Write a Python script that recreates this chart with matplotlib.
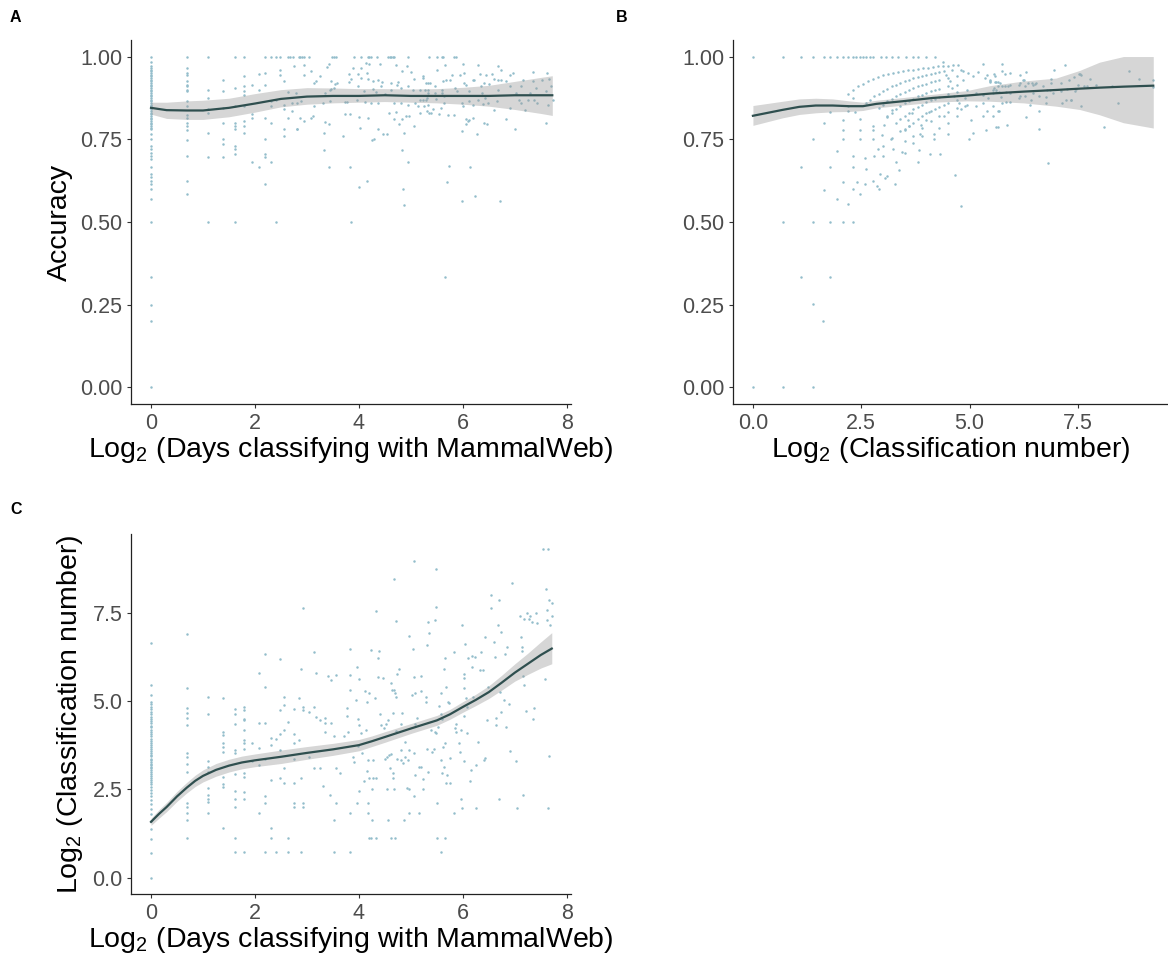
import matplotlib
matplotlib.use("Agg")
from matplotlib import pyplot as plt
import numpy as np

plt.rcParams['font.family'] = ['Liberation Sans', 'DejaVu Sans']
plt.rcParams['mathtext.fontset'] = 'custom'
plt.rcParams['mathtext.rm'] = 'Liberation Sans'
plt.rcParams['mathtext.default'] = 'regular'

# ---------------- panel A: accuracy vs log days ----------------
# users active a single day (log days = 0)
a_oneday_acc = [1.0, 0.985, 0.97, 0.965, 0.96, 0.955, 0.95, 0.945, 0.94, 0.935, 0.93,
                0.925, 0.92, 0.915, 0.91, 0.905, 0.90, 0.895, 0.89, 0.885, 0.88, 0.875,
                0.87, 0.865, 0.86, 0.855, 0.85, 0.845, 0.84, 0.835, 0.83, 0.825, 0.82,
                0.815, 0.81, 0.805, 0.80, 0.795, 0.79, 0.785, 0.78, 0.765, 0.75, 0.73,
                0.72, 0.71, 0.70, 0.69, 0.665, 0.645, 0.635, 0.625, 0.615, 0.60, 0.57,
                0.5, 0.333, 0.25, 0.2, 0.0]

a_days = [0.69, 0.69, 0.69, 0.69, 0.69, 0.69, 0.69, 0.69, 0.69, 0.69, 0.69, 0.69, 0.69,
          0.69, 0.69, 0.69, 0.69, 0.69, 0.69, 0.69,
          1.10, 1.10, 1.10, 1.10, 1.10, 1.10, 1.10, 1.10,
          1.39, 1.39, 1.39, 1.39, 1.39, 1.39, 1.39,
          1.61, 1.61, 1.61, 1.61, 1.61, 1.61, 1.61, 1.61, 1.61, 1.61,
          1.79, 1.79, 1.79, 1.79, 1.79, 1.79, 1.79, 1.79, 1.79,
          1.95, 1.95, 1.95, 1.95, 2.08, 2.08, 2.08,
          2.20, 2.20, 2.20, 2.20, 2.20, 2.20, 2.20, 2.20,
          2.30, 2.30, 2.30, 2.30, 2.30, 2.40, 2.40, 2.40, 2.48, 2.48, 2.48,
          2.56, 2.56, 2.56, 2.56, 2.56, 2.64, 2.64, 2.64,
          2.68, 2.73, 2.84, 2.87, 2.90, 2.95, 3.04, 3.49, 3.52, 3.56, 3.91, 4.04, 4.17,
          4.20, 4.23, 4.35, 4.55, 4.59, 4.62, 4.65, 4.68, 4.95, 5.35, 5.51, 5.59, 5.62,
          5.83, 5.86,
          2.75, 2.95, 3.43, 3.38, 3.89, 4.04, 4.14, 4.20, 4.40, 4.72, 4.93, 3.08, 2.95,
          3.26, 3.80, 3.98, 4.16, 3.85, 4.04, 4.18, 4.27, 4.37, 4.44, 4.62, 4.75, 4.83,
          5.01, 5.06, 5.23, 5.30, 3.13, 3.17, 3.46, 3.54, 3.58, 3.80, 3.46, 3.35, 3.44,
          3.52, 3.99, 4.10, 4.27, 4.33, 4.43, 4.51, 4.62, 4.73, 4.81, 4.94, 5.04, 5.17,
          5.33, 2.78, 2.71, 2.80, 2.88, 3.13, 3.30, 3.44, 3.74, 3.78, 3.97, 4.12, 4.23,
          4.36, 4.68, 4.80, 4.94, 5.07, 5.17, 5.25, 5.31, 2.71, 2.80, 2.87, 2.94, 3.07,
          3.12, 3.35, 3.42, 3.74, 3.82, 4.00, 4.03, 4.18, 4.26, 4.29, 4.36, 4.46, 4.54,
          4.57, 4.67, 4.71, 4.77, 4.83, 4.91, 4.96, 5.06, 5.14, 5.17, 5.35, 2.81, 3.32,
          3.32, 3.43, 3.69, 3.82, 4.00, 4.15, 4.84, 4.87, 4.86, 4.95, 4.83, 3.85,
          5.65, 6.01, 6.29, 6.67, 6.74, 5.51, 7.34, 7.62, 5.23, 5.79, 5.95, 6.02, 6.32,
          6.45, 6.56, 6.90, 6.96, 5.33, 5.36, 5.62, 5.67, 5.76, 6.03, 6.19, 6.22, 6.40,
          6.51, 6.59, 6.67, 6.74, 6.82, 7.16, 7.35, 7.52, 7.66, 7.70, 5.27, 5.46, 5.59,
          5.85, 6.06, 6.34, 6.67, 6.91, 7.12, 7.41, 7.59, 5.33, 5.46, 5.59, 5.64, 5.88,
          6.12, 6.36, 7.02, 7.29, 5.23, 5.30, 5.49, 5.64, 5.98, 6.12, 6.29, 6.42, 6.49,
          6.65, 7.08, 7.12, 7.25, 7.37, 7.42, 7.63, 7.73, 5.32, 5.42, 5.31, 5.39, 5.54,
          5.58, 5.71, 5.83, 6.00, 6.19, 6.38, 6.59, 6.90, 7.20, 6.06, 6.09, 6.12, 6.19,
          6.82, 6.41, 6.47, 6.06, 5.98, 6.27, 7.00, 7.60, 5.74, 6.14, 5.70, 6.24, 5.98,
          6.71, 5.65]

a_acc = [1.0, 0.966, 0.95, 0.945, 0.925, 0.915, 0.91, 0.90, 0.895, 0.865, 0.85, 0.824,
         0.814, 0.799, 0.789, 0.779, 0.749, 0.698, 0.624, 0.584,
         1.0, 0.90, 0.875, 0.84, 0.83, 0.77, 0.695, 0.5,
         0.93, 0.897, 0.845, 0.80, 0.75, 0.735, 0.695,
         1.0, 0.905, 0.85, 0.80, 0.79, 0.78, 0.73, 0.72, 0.705, 0.5,
         1.0, 0.94, 0.91, 0.895, 0.885, 0.85, 0.805, 0.79, 0.77,
         0.915, 0.825, 0.813, 0.682, 0.947, 0.90, 0.666,
         1.0, 0.95, 0.915, 0.815, 0.75, 0.705, 0.695, 0.615,
         1.0, 0.867, 0.85, 0.80, 0.682, 1.0, 0.87, 0.5, 1.0, 0.96, 0.945,
         0.927, 0.855, 0.84, 0.78, 0.761, 1.0, 0.893, 0.815,
         1.0, 1.0, 1.0, 1.0, 1.0, 1.0, 1.0, 1.0, 1.0, 1.0, 1.0, 1.0, 1.0,
         1.0, 1.0, 1.0, 1.0, 1.0, 1.0, 1.0, 1.0, 1.0, 1.0, 1.0, 1.0, 1.0,
         1.0, 1.0,
         0.972, 0.975, 0.977, 0.967, 0.965, 0.965, 0.98, 0.977, 0.978, 0.975, 0.97, 0.957,
         0.944, 0.94, 0.947, 0.948, 0.95, 0.933, 0.935, 0.932, 0.925, 0.93, 0.922, 0.92,
         0.922, 0.955, 0.953, 0.932, 0.935, 0.92, 0.92, 0.925, 0.927, 0.917, 0.92, 0.923,
         0.902, 0.89, 0.898, 0.905, 0.91, 0.895, 0.902, 0.893, 0.91, 0.888, 0.90, 0.915,
         0.905, 0.91, 0.90, 0.90, 0.90, 0.89, 0.86, 0.86, 0.865, 0.85, 0.86, 0.865, 0.862,
         0.862, 0.868, 0.862, 0.86, 0.86, 0.86, 0.86, 0.855, 0.86, 0.87, 0.85, 0.875,
         0.835, 0.78, 0.813, 0.805, 0.815, 0.82, 0.802, 0.795, 0.827, 0.827, 0.817, 0.783,
         0.815, 0.748, 0.752, 0.78, 0.765, 0.765, 0.83, 0.81, 0.832, 0.795, 0.81, 0.82,
         0.82, 0.79, 0.85, 0.83, 0.83, 0.781, 0.718, 0.77, 0.666, 0.761, 0.666, 0.605,
         0.625, 0.60, 0.55, 0.77, 0.68, 0.718, 0.5,
         0.975, 0.977, 0.975, 0.97, 0.96, 0.96, 0.954, 0.95, 0.94, 0.943, 0.943, 0.95,
         0.948, 0.943, 0.948, 0.943, 0.95, 0.92, 0.92, 0.925, 0.93, 0.93, 0.92, 0.928,
         0.928, 0.92, 0.918, 0.933, 0.928, 0.93, 0.926, 0.928, 0.925, 0.93, 0.933, 0.91,
         0.90, 0.91, 0.90, 0.905, 0.915, 0.91, 0.90, 0.91, 0.91, 0.905, 0.895, 0.89, 0.89,
         0.89, 0.88, 0.895, 0.895, 0.89, 0.89, 0.89, 0.87, 0.868, 0.873, 0.86, 0.86,
         0.865, 0.87, 0.875, 0.86, 0.865, 0.87, 0.86, 0.87, 0.87, 0.86, 0.855, 0.87,
         0.853, 0.84, 0.835, 0.828, 0.825, 0.845, 0.822, 0.822, 0.85, 0.853, 0.856, 0.838,
         0.846, 0.838, 0.81, 0.806, 0.808, 0.815, 0.81, 0.80, 0.795, 0.795, 0.776, 0.765,
         0.78, 0.80, 0.67, 0.665, 0.62, 0.578, 0.563, 0.563, 0.333]

a_fit_x = [0, 0.3, 0.69, 1.0, 1.5, 2.0, 2.5, 3.0, 3.5, 4.0, 4.5, 5.0, 5.5, 6.0, 6.5,
           7.0, 7.5, 7.72]
a_fit = [0.845, 0.838, 0.837, 0.837, 0.845, 0.858, 0.872, 0.879, 0.881, 0.881, 0.883,
         0.881, 0.881, 0.881, 0.881, 0.883, 0.883, 0.883]
a_fit_lo = [0.826, 0.813, 0.81, 0.81, 0.818, 0.832, 0.848, 0.856, 0.86, 0.862, 0.864,
            0.862, 0.86, 0.856, 0.85, 0.84, 0.828, 0.822]
a_fit_hi = [0.862, 0.862, 0.866, 0.868, 0.874, 0.888, 0.90, 0.906, 0.905, 0.903, 0.903,
            0.902, 0.903, 0.907, 0.913, 0.925, 0.937, 0.942]

# ---------------- panel B: accuracy vs log classification number ----------------
b_class = [0.0, 0.69, 1.10, 1.39, 1.63, 1.79, 1.95, 2.08, 2.20, 2.31, 2.39, 2.47, 2.54,
           2.62, 2.70, 2.77, 2.96, 3.08, 3.20, 3.35, 3.54, 3.70, 3.81, 3.99, 4.20, 4.38,
           0.0, 0.69, 1.39, 0.69, 1.39, 1.79, 2.08, 2.31, 1.10, 1.79, 1.39, 1.62, 2.19, 4.80,
           1.63, 1.39, 1.10, 1.79, 1.63, 1.79, 2.08, 2.20, 2.08, 2.08, 1.95, 2.08, 1.95,
           2.31, 2.31, 2.31, 2.47, 2.31, 2.20, 2.35, 2.47, 2.47, 2.47, 2.58, 2.58, 2.76,
           2.76, 2.77, 2.77, 2.87, 2.93, 3.00, 3.04, 2.89, 2.97, 3.02, 3.10, 3.20, 3.18,
           3.23, 3.27, 3.36, 3.43, 3.50, 3.52, 3.58, 3.68, 3.80, 3.83, 3.85, 3.89, 3.99,
           4.07, 4.08, 4.31, 4.18, 4.18, 4.29, 4.50, 4.66, 4.99, 5.08, 5.39, 5.65, 5.65,
           # upper arcs
           2.20, 2.31, 2.42, 2.54, 2.66, 2.77, 2.89, 3.00, 3.12, 3.23, 3.35, 3.46, 3.58,
           3.70, 3.81, 3.93, 4.04, 4.16, 4.27, 4.39, 4.50, 4.62, 4.73,
           2.6, 2.7, 2.8, 2.9, 3.0, 3.1, 3.2, 3.3, 3.4, 3.5, 3.6, 3.7, 3.8, 3.9, 4.0, 4.1,
           4.2, 4.3, 4.4, 4.6, 4.8,
           2.9, 3.0, 3.1, 3.2, 3.3, 3.4, 3.5, 3.6, 3.7, 3.8, 3.9, 4.0, 4.1, 4.2, 4.3, 4.5,
           4.7,
           3.1, 3.2, 3.3, 3.4, 3.5, 3.6, 3.7, 3.8, 3.9, 4.0, 4.1, 4.2, 4.3, 4.5, 4.7,
           3.3, 3.4, 3.5, 3.6, 3.7, 3.8, 3.9, 4.0, 4.1, 4.2, 4.3, 4.5, 4.7,
           3.5, 3.6, 3.7, 3.8, 3.9, 4.0, 4.1, 4.2, 4.3, 4.4, 4.5, 4.7,
           3.7, 3.9, 4.1, 4.3, 4.5, 4.7, 4.9,
           2.4, 2.6, 2.8, 3.0, 3.2, 3.4, 3.6,
           2.9, 3.1, 3.3, 3.5, 3.7, 3.9,
           # cloud 4.4 - 5.7
           4.85, 4.97, 5.08, 5.20, 5.31, 5.35, 5.40, 5.47, 5.54, 5.58, 5.65, 4.93, 5.16,
           5.31, 5.43, 4.93, 5.16, 5.31, 5.40, 5.54, 5.04, 5.31, 5.54, 4.45, 4.55, 4.60,
           4.65, 4.75, 4.80, 4.70, 4.50, 4.40, 4.85, 4.90,
           # right part
           5.75, 5.56, 5.74, 5.82, 5.94, 6.16, 6.30, 6.26, 7.20, 6.94, 7.54, 7.58, 7.78,
           8.68, 8.90, 9.23, 9.24, 5.47, 5.47, 5.58, 5.62, 5.70, 5.66, 5.74, 5.56, 5.62,
           5.53, 5.60, 5.68, 5.72, 5.81, 5.89, 5.93, 5.84, 5.94, 6.14, 6.16, 6.24, 6.27,
           6.16, 6.14, 6.27, 6.35, 6.43, 6.47, 6.51, 6.54, 6.47, 6.41, 6.61, 6.70, 6.77,
           6.79, 6.89, 6.89, 6.85, 6.93, 6.77, 7.12, 7.12, 7.14, 7.22, 7.33, 7.35, 7.25,
           7.30, 7.41, 7.43, 7.45, 7.51, 7.53, 7.64, 7.71, 7.91, 8.28, 8.42, 7.58, 6.61,
           5.67, 5.87, 5.62, 6.31, 6.61, 8.11, 6.81, 6.39, 5.74, 5.85, 5.93]

b_acc = [1.0, 1.0, 1.0, 1.0, 1.0, 1.0, 1.0, 1.0, 1.0, 1.0, 1.0, 1.0, 1.0,
         1.0, 1.0, 1.0, 1.0, 1.0, 1.0, 1.0, 1.0, 1.0, 1.0, 1.0, 1.0, 0.985,
         0.0, 0.0, 0.0, 0.5, 0.5, 0.5, 0.5, 0.5, 0.333, 0.333, 0.253, 0.2, 0.555, 0.549,
         0.799, 0.75, 0.665, 0.665, 0.597, 0.832, 0.809, 0.834, 0.777, 0.75, 0.715, 0.622,
         0.571, 0.699, 0.665, 0.60, 0.584, 0.875, 0.85, 0.832, 0.81, 0.777, 0.75, 0.693,
         0.615, 0.777, 0.75, 0.791, 0.625, 0.61, 0.646, 0.699, 0.632, 0.72, 0.763, 0.793,
         0.817, 0.839, 0.75, 0.72, 0.615, 0.657, 0.712, 0.744, 0.778, 0.807, 0.829, 0.681,
         0.718, 0.767, 0.793, 0.809, 0.832, 0.706, 0.706, 0.75, 0.767, 0.784, 0.767, 0.642,
         0.75, 0.768, 0.778, 0.786, 0.836,
         0.887, 0.90, 0.91, 0.918, 0.925, 0.932, 0.938, 0.943, 0.947, 0.95, 0.953, 0.955,
         0.958, 0.96, 0.962, 0.964, 0.966, 0.968, 0.97, 0.971, 0.972, 0.973, 0.974,
         0.86, 0.87, 0.88, 0.888, 0.895, 0.903, 0.91, 0.915, 0.92, 0.925, 0.93, 0.934,
         0.938, 0.942, 0.945, 0.948, 0.95, 0.953, 0.955, 0.958, 0.96,
         0.845, 0.855, 0.865, 0.873, 0.88, 0.887, 0.893, 0.90, 0.905, 0.91, 0.915, 0.918,
         0.922, 0.926, 0.93, 0.935, 0.94,
         0.82, 0.83, 0.84, 0.85, 0.86, 0.867, 0.873, 0.88, 0.885, 0.89, 0.895, 0.90,
         0.903, 0.91, 0.915,
         0.80, 0.81, 0.82, 0.83, 0.84, 0.848, 0.855, 0.862, 0.868, 0.873, 0.878, 0.887,
         0.893,
         0.78, 0.79, 0.80, 0.81, 0.82, 0.828, 0.835, 0.842, 0.848, 0.855, 0.86, 0.868,
         0.76, 0.785, 0.805, 0.82, 0.832, 0.843, 0.852,
         0.62, 0.66, 0.70, 0.73, 0.755, 0.775, 0.79,
         0.60, 0.64, 0.68, 0.71, 0.74, 0.76,
         0.955, 0.95, 0.94, 0.952, 0.976, 0.935, 0.945, 0.925, 0.90, 0.94, 0.922, 0.90,
         0.89, 0.885, 0.875, 0.855, 0.85, 0.86, 0.834, 0.85, 0.809, 0.819, 0.819, 0.945,
         0.925, 0.905, 0.88, 0.86, 0.84, 0.82, 0.80, 0.82, 0.93, 0.875,
         0.977, 0.947, 0.955, 0.947, 0.949, 0.943, 0.952, 0.93, 0.975, 0.96, 0.948, 0.943,
         0.932, 0.957, 0.933, 0.93, 0.909, 0.93, 0.922, 0.924, 0.924, 0.92, 0.91, 0.912,
         0.905, 0.90, 0.89, 0.893, 0.893, 0.878, 0.912, 0.912, 0.915, 0.892, 0.89, 0.915,
         0.92, 0.928, 0.91, 0.88, 0.875, 0.88, 0.92, 0.92, 0.915, 0.917, 0.92, 0.89,
         0.87, 0.88, 0.91, 0.878, 0.90, 0.92, 0.932, 0.90, 0.89, 0.86, 0.92, 0.895,
         0.86, 0.87, 0.87, 0.868, 0.902, 0.928, 0.937, 0.897, 0.902, 0.915, 0.948, 0.91,
         0.91, 0.915, 0.912, 0.86, 0.85, 0.834, 0.834, 0.792, 0.787, 0.817, 0.781, 0.787,
         0.678, 0.855, 0.86, 0.862, 0.863]

b_fit_x = [0, 0.69, 1.07, 1.45, 1.84, 2.22, 2.54, 2.85, 3.46, 4.16, 4.93, 5.47, 6.24,
           7.0, 7.54, 8.0, 8.55, 9.24]
b_fit = [0.821, 0.839, 0.848, 0.852, 0.852, 0.85, 0.85, 0.857, 0.865, 0.875, 0.882,
         0.888, 0.894, 0.899, 0.903, 0.906, 0.909, 0.912]
b_fit_lo = [0.792, 0.815, 0.825, 0.83, 0.833, 0.834, 0.837, 0.845, 0.853, 0.862, 0.866,
            0.865, 0.86, 0.85, 0.84, 0.824, 0.80, 0.784]
b_fit_hi = [0.852, 0.865, 0.872, 0.874, 0.872, 0.866, 0.862, 0.868, 0.876, 0.886,
            0.897, 0.912, 0.926, 0.935, 0.958, 0.983, 1.0, 1.0]

# ---------------- panel C: log classification number vs log days ----------------
c_oneday_class = [6.64, 5.44, 5.16, 4.97, 4.90, 4.83, 4.76, 4.70, 4.62, 4.55, 4.50, 4.43,
                  4.37, 4.30, 4.25, 4.19, 4.13, 4.06, 4.00, 3.93, 3.87, 3.81, 3.76, 3.69,
                  3.64, 3.58, 3.53, 3.47, 3.43, 3.37, 3.33, 3.26, 3.22, 3.18, 3.14, 3.09,
                  3.04, 3.00, 2.94, 2.89, 2.83, 2.77, 2.71, 2.64, 2.56, 2.48, 2.40, 2.30,
                  2.20, 2.08, 1.95, 1.79, 1.61, 1.39, 1.10, 0.69, 0.0]

c_days = [0.69, 0.69, 0.69, 0.69, 0.69, 0.69, 0.69, 0.69, 0.69, 0.69, 0.69, 0.69, 0.69,
          0.69, 0.69,
          1.10, 1.10, 1.10, 1.10, 1.10, 1.10, 1.10, 1.10, 1.10, 1.10,
          1.39, 1.39, 1.39, 1.39, 1.39, 1.39, 1.39, 1.39, 1.39, 1.39,
          1.61, 1.61, 1.61, 1.61, 1.61, 1.61, 1.61, 1.61, 1.61, 1.61, 1.61,
          1.79, 1.79, 1.79, 1.79, 1.79, 1.79, 1.79, 1.79, 1.79, 1.79, 1.79, 1.79, 1.79,
          1.94, 1.94, 2.08, 2.08, 2.08, 2.08, 2.08,
          2.20, 2.20, 2.20, 2.20, 2.20, 2.20, 2.20,
          2.30, 2.30, 2.30, 2.30, 2.30, 2.41, 2.41,
          2.48, 2.48, 2.48, 2.48, 2.48, 2.56, 2.56, 2.56, 2.56, 2.56, 2.64, 2.64, 2.64,
          2.75, 2.75, 2.75, 2.75, 2.75, 2.75, 2.75, 2.84, 2.84, 2.88, 2.88, 2.88,
          2.93, 2.93, 2.93, 2.93, 2.93, 3.04, 3.04, 3.13, 3.13, 3.13, 3.17, 3.17,
          3.26, 3.26, 3.30, 3.35, 3.35, 3.35, 3.40, 3.44, 3.46, 3.46, 3.52, 3.52, 3.52,
          3.56, 3.56, 3.56, 3.64, 3.72, 3.77, 3.83, 3.83, 3.83, 3.83, 3.83, 3.77, 3.79,
          3.96, 4.01, 3.94, 3.98, 4.01, 3.99, 3.88, 3.90, 4.01, 3.96, 4.12, 4.20, 4.16,
          4.14, 4.04, 4.05, 4.18, 4.27, 4.16, 4.10, 4.20, 4.27, 4.33, 4.25, 4.17, 4.17,
          4.25, 4.20, 4.23, 4.33, 4.32, 4.23, 4.39, 4.36, 4.37, 4.46, 4.30, 4.41, 4.43,
          4.48, 4.52, 4.56, 4.50, 4.54, 4.57, 4.61, 4.60, 4.65, 4.65, 4.54, 4.67, 4.55,
          4.62, 4.70, 4.67, 4.72, 4.61, 4.63, 4.68, 4.74, 4.78, 4.70, 4.72, 4.66, 4.72,
          4.80, 4.83, 4.80, 4.74, 4.81, 4.88, 4.85, 4.94, 4.96, 4.88, 4.97, 5.04, 5.06,
          5.02, 5.07, 5.08, 5.12, 5.06, 5.07, 5.15, 5.19, 5.23, 5.23, 5.06, 4.93, 4.97,
          4.97, 5.15, 4.86, 5.06, 5.20, 5.20, 5.30, 5.29, 5.31, 5.33, 5.35, 5.33, 5.31,
          5.49, 5.48, 5.47, 5.39, 5.46, 5.48, 5.40, 5.44, 5.52, 5.57, 5.54, 5.58, 5.60,
          5.62, 5.65, 5.64, 5.65, 5.67, 5.71, 5.73, 5.58, 5.60, 5.64, 5.70, 5.67, 5.75,
          5.75, 5.83, 5.84, 5.87, 5.87, 5.93, 5.94, 5.97, 5.98, 6.02, 6.02, 6.03, 6.03,
          6.05, 6.06, 6.07, 6.07, 6.03, 6.10, 6.13, 6.18, 6.18, 6.16, 6.20, 6.23, 6.26,
          6.29, 6.34, 6.32, 6.38, 6.42, 6.41, 6.43, 6.47, 6.49, 6.54, 6.55, 6.60, 6.61,
          6.63, 6.63, 6.67, 6.69, 6.74, 6.72, 6.74, 6.79, 6.81, 6.82, 6.85, 6.88, 6.90,
          6.94, 7.03, 7.10, 7.12, 7.14, 7.13, 7.16, 7.18, 7.21, 7.17, 7.24, 7.27, 7.30,
          7.33, 7.37, 7.35, 7.40, 7.42, 7.54, 7.64, 7.60, 7.61, 7.62, 7.66, 7.68, 7.71,
          7.72, 7.58, 7.66, 7.63, 7.15, 7.05, 6.70, 6.25, 5.99, 5.97, 5.83, 5.50, 5.57,
          5.51, 5.65]

c_class = [6.90, 5.37, 4.80, 4.66, 4.53, 4.31, 3.53, 3.42, 3.23, 3.00, 2.12, 2.00, 1.84,
           1.63, 1.13,
           5.10, 4.62, 3.30, 3.14, 3.00, 2.54, 2.34, 2.24, 2.15, 1.84,
           5.07, 4.12, 4.03, 3.80, 3.70, 3.56, 2.85, 2.66, 2.57, 1.42,
           4.77, 4.62, 4.36, 3.61, 3.53, 2.93, 2.45, 2.24, 1.99, 1.13, 0.72,
           4.83, 4.74, 4.50, 4.45, 4.17, 3.89, 3.80, 3.65, 2.97, 2.85, 2.43, 2.24, 0.72,
           3.81, 3.30, 5.79, 4.38, 3.67, 3.18, 1.82,
           6.32, 5.40, 4.38, 3.37, 2.32, 2.12, 0.72,
           3.96, 3.75, 2.76, 1.41, 1.13, 3.91, 0.72,
           6.18, 4.74, 4.06, 3.61, 2.81, 5.10, 4.89, 4.17, 3.09, 2.68, 4.39, 1.13, 0.72,
           4.76, 4.06, 3.80, 3.37, 2.68, 2.12, 1.99, 5.07, 3.89, 5.89, 2.81, 0.72,
           7.63, 4.83, 4.74, 2.12, 1.99, 4.69, 3.42, 6.37, 4.83, 3.11, 5.79, 4.55,
           4.47, 3.11, 2.59, 4.53, 4.38, 4.11, 5.70, 2.34, 5.58, 4.38, 4.01, 1.63, 0.72,
           5.72, 3.09, 2.10, 2.97, 4.01, 4.57, 6.48, 5.72, 5.32, 1.82, 0.72, 4.80, 4.11,
           5.96, 5.63, 5.02, 4.50, 4.31, 3.72, 3.42, 3.26, 2.45, 2.12, 5.27, 5.21, 4.97,
           4.17, 4.08, 3.53, 3.32, 3.32, 3.02, 2.74, 2.81, 2.81, 2.81, 2.52, 2.12, 1.82,
           1.63, 1.13, 1.13, 1.13, 7.54, 6.43, 6.41, 6.20, 5.68, 5.65, 5.07, 4.64, 4.33,
           4.22, 4.36, 4.45, 3.37, 3.42, 3.47, 3.49, 3.11, 2.97, 2.81, 2.52, 2.52, 1.63,
           1.13, 1.13, 8.46, 7.26, 5.51, 5.32, 5.30, 5.77, 5.89, 5.21, 5.11, 4.66, 4.14,
           4.36, 4.66, 3.61, 3.37, 3.32, 3.42, 3.25, 3.32, 3.60, 3.84, 6.84, 6.48, 5.68,
           5.16, 5.21, 4.36, 4.53, 3.53, 2.90, 3.14, 3.12, 2.80, 2.52, 2.32, 2.54, 2.52,
           1.82, 1.82, 1.63, 8.95, 5.70, 5.27, 5.10, 4.97, 3.65, 2.99, 6.93, 7.23, 6.58,
           8.74, 7.66, 7.28, 4.17, 4.11, 4.08, 3.56, 3.65, 4.27, 5.21, 4.86, 4.62, 4.50,
           3.70, 3.80, 5.91, 6.21, 5.40, 4.97, 4.93, 3.32, 2.97, 3.12, 2.91, 2.67, 2.67,
           3.39, 6.39, 4.22, 4.12, 4.36, 3.80, 3.56, 4.19, 7.14, 4.57, 5.36, 5.77, 5.65,
           6.62, 5.07, 4.83, 4.08, 3.30, 6.20, 2.74, 5.96, 6.28, 3.04, 5.11, 6.24, 3.18,
           3.84, 6.39, 5.87, 5.87, 6.82, 3.32, 3.39, 4.47, 5.40, 7.63, 7.99, 6.67, 6.24,
           4.51, 4.31, 7.16, 7.84, 6.96, 5.25, 4.69, 5.02, 6.34, 4.25, 6.53, 4.90, 3.59,
           8.33, 3.30, 7.40, 6.81, 6.53, 6.40, 5.71, 5.44, 4.71, 7.33, 7.49, 7.33, 7.39,
           7.24, 4.80, 4.48, 7.49, 7.20, 9.30, 9.30, 8.16, 7.58, 7.28, 7.84, 7.16, 7.78,
           7.39, 5.61, 3.44, 1.98, 2.33, 1.98, 2.24, 1.98, 1.98, 2.24, 1.82, 2.12, 0.72,
           1.13, 1.13]

c_fit_x = [0, 0.15, 0.3, 0.5, 0.69, 0.85, 1.0, 1.25, 1.5, 1.75, 2.0, 2.5, 3.0, 3.5, 4.0,
           4.25, 4.5, 5.0, 5.5, 5.75, 6.0, 6.25, 6.5, 6.75, 7.0, 7.25, 7.5, 7.71]
c_fit = [1.58, 1.80, 2.0, 2.30, 2.55, 2.74, 2.88, 3.05, 3.17, 3.26, 3.32, 3.42, 3.53,
         3.63, 3.75, 3.86, 3.98, 4.22, 4.45, 4.62, 4.83, 5.03, 5.25, 5.52, 5.80, 6.05,
         6.30, 6.48]
c_fit_lo = [1.48, 1.68, 1.87, 2.16, 2.40, 2.58, 2.71, 2.87, 2.99, 3.08, 3.14, 3.23, 3.35,
            3.46, 3.59, 3.71, 3.83, 4.08, 4.31, 4.48, 4.68, 4.87, 5.07, 5.31, 5.56, 5.75,
            5.93, 6.05]
c_fit_hi = [1.68, 1.92, 2.13, 2.44, 2.70, 2.90, 3.05, 3.23, 3.35, 3.44, 3.50, 3.61, 3.71,
            3.80, 3.91, 4.01, 4.13, 4.36, 4.59, 4.76, 4.98, 5.19, 5.43, 5.73, 6.05, 6.35,
            6.67, 6.93]

point_col = '#93BDCB'
line_col = '#2F4F4F'

W, H = 1168, 955
fig = plt.figure(figsize=(W / 100, H / 100), dpi=100)


def px_axes(left, top, right, bottom):
    return fig.add_axes([left / W, 1 - bottom / H, (right - left) / W, (bottom - top) / H])


def style(ax):
    for s in ['top', 'right']:
        ax.spines[s].set_visible(False)
    for s in ['left', 'bottom']:
        ax.spines[s].set_linewidth(0.9)
        ax.spines[s].set_color('#222222')
    ax.tick_params(length=3.2, width=0.8, color='#333333', labelcolor='#4D4D4D',
                   labelsize=15.5, pad=3)


def draw(ax, x, y, fx, fy, flo, fhi):
    ax.scatter(x, y, s=3.2, color=point_col, linewidths=0, zorder=1)
    ax.fill_between(fx, flo, fhi, color='#999999', alpha=0.4, linewidth=0, zorder=2)
    ax.plot(fx, fy, color=line_col, lw=1.6, zorder=3)


xlab_days = 'Log$_2$ (Days classifying with MammalWeb)'
xlab_class = 'Log$_2$ (Classification number)'
title_size = 20.5

# panel A
axA = px_axes(131, 40, 571, 404)
draw(axA, list(np.zeros(len(a_oneday_acc))) + a_days, a_oneday_acc + a_acc,
     a_fit_x, a_fit, a_fit_lo, a_fit_hi)
axA.set_xlim(-0.385, 8.08)
axA.set_ylim(-0.05, 1.05)
axA.set_xticks([0, 2, 4, 6, 8])
axA.set_yticks([0, 0.25, 0.5, 0.75, 1.0])
axA.set_yticklabels(['0.00', '0.25', '0.50', '0.75', '1.00'])
axA.set_xlabel(xlab_days, fontsize=title_size, labelpad=1)
axA.set_ylabel('Accuracy', fontsize=title_size, labelpad=5)
style(axA)

# panel B
axB = px_axes(733, 40, 1168, 404)
draw(axB, b_class, b_acc, b_fit_x, b_fit, b_fit_lo, b_fit_hi)
axB.set_xlim(-0.46, 9.58)
axB.set_ylim(-0.05, 1.05)
axB.set_xticks([0, 2.5, 5, 7.5])
axB.set_xticklabels(['0.0', '2.5', '5.0', '7.5'])
axB.set_yticks([0, 0.25, 0.5, 0.75, 1.0])
axB.set_yticklabels(['0.00', '0.25', '0.50', '0.75', '1.00'])
axB.set_xlabel(xlab_class, fontsize=title_size, labelpad=1)
style(axB)

# panel C
axC = px_axes(131, 534, 571, 894)
draw(axC, list(np.zeros(len(c_oneday_class))) + c_days, c_oneday_class + c_class,
     c_fit_x, c_fit, c_fit_lo, c_fit_hi)
axC.set_xlim(-0.385, 8.08)
axC.set_ylim(-0.46, 9.72)
axC.set_xticks([0, 2, 4, 6, 8])
axC.set_yticks([0, 2.5, 5, 7.5])
axC.set_yticklabels(['0.0', '2.5', '5.0', '7.5'])
axC.set_xlabel(xlab_days, fontsize=title_size, labelpad=1)
axC.set_ylabel(xlab_class, fontsize=title_size, labelpad=5)
style(axC)

for lab, (px, py) in zip(['A', 'B', 'C'], [(10, 22), (616, 22), (10, 514)]):
    fig.text(px / W, 1 - py / H, lab, fontsize=11.5, fontweight='bold', color='black')

fig.savefig('out.png', dpi=100)
